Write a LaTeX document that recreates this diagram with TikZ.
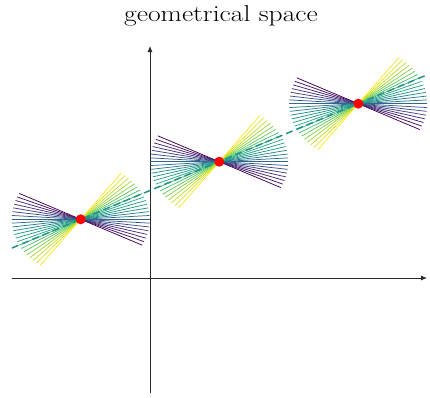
\documentclass[tikz,border=0pt]{standalone}
\usepackage{graphicx}
\usetikzlibrary{arrows.meta,calc}
\definecolor{v0}{RGB}{68,1,84}
\definecolor{v1}{RGB}{72,36,117}
\definecolor{v2}{RGB}{65,68,135}
\definecolor{v3}{RGB}{53,95,141}
\definecolor{v4}{RGB}{42,120,142}
\definecolor{v5}{RGB}{33,145,140}
\definecolor{v6}{RGB}{34,168,132}
\definecolor{v7}{RGB}{68,191,112}
\definecolor{v8}{RGB}{122,209,81}
\definecolor{v9}{RGB}{189,223,38}
\definecolor{v10}{RGB}{253,231,37}
\definecolor{axisgray}{RGB}{40,40,40}
\tikzset{
  axisline/.style={draw=axisgray,line width=0.8pt,-{Latex[length=6pt,width=5pt]}},
  fanline/.style={line width=0.75pt},
  dashline/.style={draw=v5,line width=1.5pt,dash pattern=on 7pt off 4pt},
  reddot/.style={circle,fill=red,inner sep=0pt,minimum size=10pt},
  titletext/.style={anchor=base,inner sep=0pt}
}
\begin{document}
\begin{tikzpicture}[x=1pt,y=-1pt]
\useasboundingbox (0,0) rectangle (430,397);
% title
\node[titletext] (title) at (221,21.7) {\scalebox{1.2}[1]{\fontsize{23}{27}\selectfont geometrical space}};
% axes
\coordinate (xl) at (12,278);
\coordinate (xr) at (427,278);
\coordinate (yb) at (150,393);
\coordinate (yt) at (150,46);
\draw[axisline] (xl) -- (xr);
\draw[axisline] (yb) -- (yt);
% centers
\coordinate (p1) at (80.7,219.3);
\coordinate (p2) at (219.3,161.7);
\coordinate (p3) at (358.3,103.7);
% fans
\foreach \c in {p1,p2,p3}{
  \foreach \i in {0,...,21}{
    \pgfmathsetmacro\t{\i/21*10}
    \pgfmathtruncatemacro\k{min(floor(\t),9)}
    \pgfmathtruncatemacro\kk{\k+1}
    \pgfmathtruncatemacro\p{round((\kk-\t)*100)}
    \colorlet{cur}{v\k!\p!v\kk}
    \pgfmathsetmacro\a{-27+\i*81/21}
    \pgfmathsetmacro\dx{69*cos(\a)}
    \pgfmathsetmacro\dy{57*sin(\a)}
    \pgfmathsetmacro\ndx{-\dx}
    \pgfmathsetmacro\ndy{-\dy}
    \draw[fanline,draw=cur] ($(\c)+(\dx,\ndy)$) -- ($(\c)+(\ndx,\dy)$);
  }
}
% dashed trend line
\coordinate (d0) at (12,248);
\coordinate (d1) at (427,74.9);
\draw[dashline] (d0) -- (d1);
% red dots
\node[reddot] (c1) at (p1) {};
\node[reddot] (c2) at (p2) {};
\node[reddot] (c3) at (p3) {};
\end{tikzpicture}
\end{document}
